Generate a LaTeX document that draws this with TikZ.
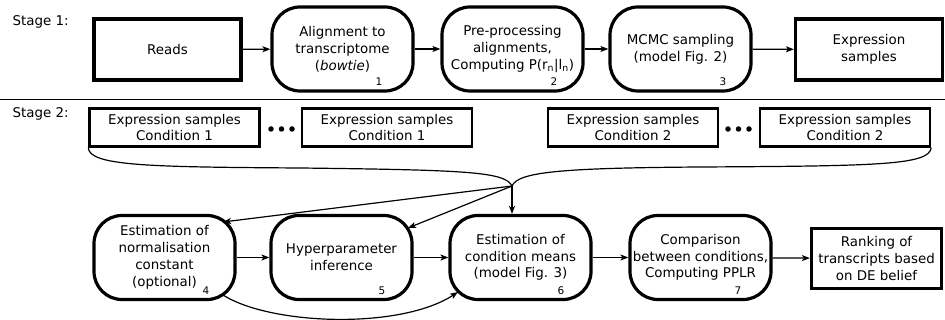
\documentclass[tikz,border=0pt]{standalone}
\usepackage{fontspec}
\setmainfont{DejaVu Sans}
\usetikzlibrary{arrows.meta,calc}
\begin{document}
\begin{tikzpicture}[x=1pt,y=-1pt,
  every node/.style={font=\fontsize{13.4}{16.8}\selectfont},
  box/.style={draw,line width=3.2pt,align=center,inner sep=0pt},
  rbox/.style={box,rounded corners=28pt,minimum width=141pt,minimum height=84pt},
  sbox/.style={box,minimum width=147pt,minimum height=61pt},
  cbox/.style={draw,line width=2.4pt,align=center,inner sep=0pt,minimum width=170pt,minimum height=38pt},
  num/.style={font=\fontsize{10.5}{11}\selectfont,inner sep=0pt},
  arr/.style={line width=1.2pt,-{Stealth[length=8pt,width=6pt,inset=2pt]}},
  brace/.style={line width=1.2pt},
  dot/.style={circle,fill,inner sep=0pt,minimum size=5.5pt}]
\useasboundingbox (0,0) rectangle (945,320);

% Stage labels and separator
\node[anchor=west] (s1) at (9,22) {Stage 1:};
\node[anchor=west] (s2) at (9,114) {Stage 2:};
\draw[line width=1pt] (0,100) -- (945,100);

% Stage 1
\node[sbox] (reads) at (167.5,49.5) {Reads};
\node[rbox] (align) at (342.5,49) {Alignment to\\transcriptome\\(\textit{bowtie})};
\node[rbox] (pre) at (512.5,49) {Pre-processing\\alignments,\\Computing P(r\textsubscript{n}|l\textsubscript{n})};
\node[rbox] (mcmc) at (680.5,49) {MCMC sampling\\(model Fig. 2)};
\node[sbox] (exp) at (869,49.5) {Expression\\samples};
\node[num] (n1) at (379,82) {1};
\node[num] (n2) at (554,82) {2};
\node[num] (n3) at (723,82) {3};
\draw[arr] (reads) -- (align);
\draw[arr] (align) -- (pre);
\draw[arr] (pre) -- (mcmc);
\draw[arr] (mcmc) -- (exp);

% Stage 2 inputs
\node[cbox] (c1a) at (174.5,127.5) {Expression samples\\Condition 1};
\node[cbox] (c1b) at (387,127.5) {Expression samples\\Condition 1};
\node[cbox] (c2a) at (633,127.5) {Expression samples\\Condition 2};
\node[cbox] (c2b) at (845,127.5) {Expression samples\\Condition 2};
\foreach \x in {271,281.5,292,728,738.5,749} \node[dot] at (\x,129) {};

\coordinate (m) at (512,186);
\draw[brace] (c1a.south west) .. controls (89,166) and (150,167) .. (300,168)
  .. controls (470,170) and (505,172) .. (m);
\draw[brace] (m) .. controls (518,172) and (560,168) .. (700,167)
  .. controls (880,166) and (929,165) .. (c2b.south east);

% Stage 2 processing
\node[rbox] (est) at (164.5,257.5) {Estimation of\\normalisation\\constant\\(optional)};
\node[rbox] (hyp) at (341.5,257.5) {Hyperparameter\\inference};
\node[rbox] (mean) at (520.5,257.5) {Estimation of\\condition means\\(model Fig. 3)};
\node[rbox] (comp) at (700.5,257.5) {Comparison\\between conditions,\\Computing PPLR};
\node[box,minimum width=130pt,minimum height=60pt] (rank) at (876.5,258.5) {Ranking of\\transcripts based\\on DE belief};
\node[num] (n4) at (206,291) {4};
\node[num] (n5) at (382,291) {5};
\node[num] (n6) at (561,291) {6};
\node[num] (n7) at (738,291) {7};

\draw[arr] (m) -- ($(est.center)+(58.5,-35.5)$);
\draw[arr] (m) -- ($(hyp.center)+(66.5,-29.5)$);
\draw[arr] (m) -- (m |- mean.north);
\draw[arr] (est) -- (hyp);
\draw[arr] (hyp) -- (mean);
\draw[arr] (mean) -- (comp);
\draw[arr] (comp) -- (rank);
\draw[arr] ($(est.center)+(58.5,37.5)$) .. controls (270,325) and (400,330) .. ($(mean.center)+(-62.5,34.5)$);
\end{tikzpicture}
\end{document}
